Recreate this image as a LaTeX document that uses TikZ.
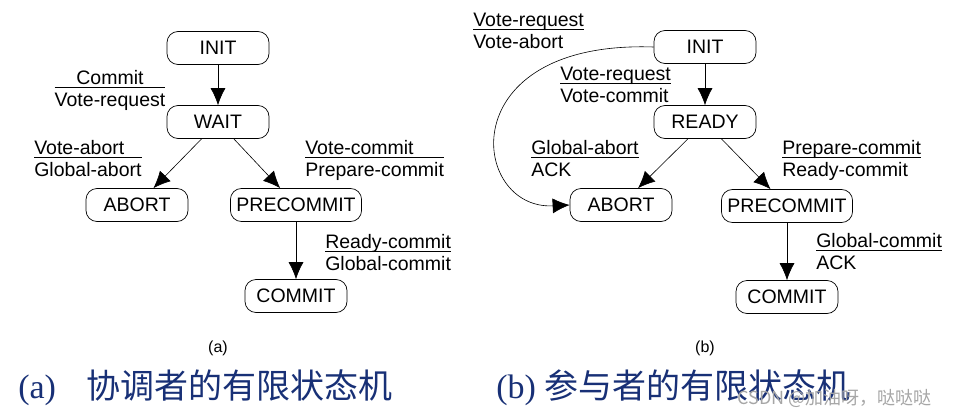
\documentclass[tikz,border=0pt]{standalone}
\usepackage{fontspec}
\setmainfont{Liberation Sans}
\newfontfamily\cjk{Noto Sans CJK SC}
\newfontfamily\capserif{Liberation Serif}
\usepackage{array}
\usetikzlibrary{arrows.meta}
\setlength{\arrayrulewidth}{0.6pt}
\newcommand{\trans}[3][l]{\begin{tabular}[t]{@{}#1@{}}#2\\[-3.6pt]\hline\rule{0pt}{19pt}#3\end{tabular}}
\definecolor{capblue}{RGB}{24,48,118}

\begin{document}
\begin{tikzpicture}[x=1pt,y=-1pt,-{Latex[length=17pt,width=15pt]},line width=0.6pt]
			\tikzstyle{state} = [draw,rounded corners=11pt,minimum width=102pt,minimum height=33pt,inner xsep=6pt,line width=0.7pt,font=\fontsize{19.5}{22}\selectfont]
			\tikzstyle{lbl} = [inner sep=0pt,anchor=base west,font=\fontsize{19.5}{22}\selectfont]
			\tikzstyle{caption} = [inner sep=0pt,anchor=base west,text=capblue,font=\fontsize{34}{40}\selectfont]
			\useasboundingbox (0,0) rectangle (961,415);
			
			% (a) coordinator
			\node[state] (init1) at (218,48) {INIT};
			\node[state] (wait1) at (218,122) {WAIT};
			\node[state] (abort1) at (137,205) {ABORT};
			\node[state] (pre1) at (296,205) {PRECOMMIT};
			\node[state] (commit1) at (296,296) {COMMIT};
			
			\path (init1) edge (wait1);
			\path (wait1) edge (abort1);
			\path (wait1) edge (pre1);
			\path (pre1) edge (commit1);
			
			\node[lbl,anchor=base] (la1) at (110,84) {\trans[c]{Commit}{Vote-request}};
			\node[lbl] (la2) at (34,154) {\trans{Vote-abort}{Global-abort}};
			\node[lbl] (la3) at (305,154) {\trans{Vote-commit}{Prepare-commit}};
			\node[lbl] (la4) at (325,248) {\trans{Ready-commit}{Global-commit}};
			
			% (b) participant
			\node[state] (init2) at (705,47) {INIT};
			\node[state] (ready2) at (705,122) {READY};
			\node[state] (abort2) at (621,205) {ABORT};
			\node[state] (pre2) at (787,206) {PRECOMMIT};
			\node[state] (commit2) at (787,297) {COMMIT};
			
			\path (init2) edge (ready2);
			\path (ready2) edge (abort2);
			\path (ready2) edge (pre2);
			\path (pre2) edge (commit2);
			\draw (init2.west) .. controls (450,40) and (470,210) .. (abort2.west);
			
			\node[lbl] (lb1) at (473,26) {\trans{Vote-request}{Vote-abort}};
			\node[lbl] (lb2) at (560,80) {\trans{Vote-request}{Vote-commit}};
			\node[lbl] (lb3) at (531,154) {\trans{Global-abort}{ACK}};
			\node[lbl] (lb4) at (782,154) {\trans{Prepare-commit}{Ready-commit}};
			\node[lbl] (lb5) at (816,247) {\trans{Global-commit}{ACK}};
			
			% captions
			\node[font=\fontsize{16}{18}\selectfont] (suba) at (218,348) {(a)};
			\node[font=\fontsize{16}{18}\selectfont] (subb) at (705,348) {(b)};
			\node[caption] (capa) at (18,398) {{\capserif (a)}\hspace{30pt}{\cjk 协调者的有限状态机}};
			\node[caption] (capb) at (496,398) {{\capserif (b)}\hspace{9pt}{\cjk 参与者的有限状态机}};
			\node[lbl,text=black!35,font=\fontsize{18}{20}\selectfont] (mark) at (737,404) {\cjk CSDN @加油呀，哒哒哒};
		\end{tikzpicture}
\end{document}
